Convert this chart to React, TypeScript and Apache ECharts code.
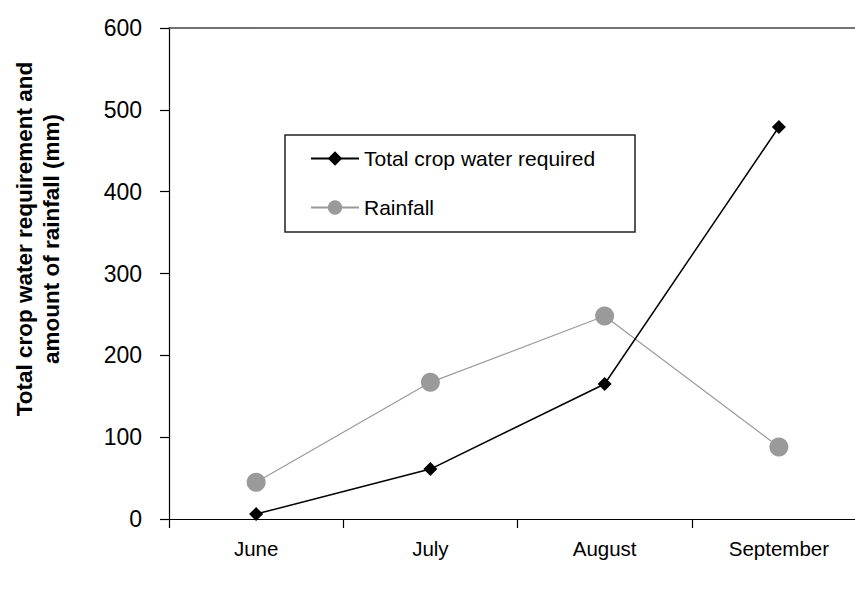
import React, { useEffect, useRef } from "react";
import * as echarts from "echarts";

const categories = ["June", "July", "August", "September"];
const cropWater = [6, 61, 165, 479];
const rainfall = [45, 167, 248, 88];
const yMin = 0;
const yMax = 600;
const yInterval = 100;
const yTitle = "Total crop water requirement and\namount of rainfall (mm)";
const seriesNames = ["Total crop water required", "Rainfall"];

const FONT = "'Liberation Sans', Arial, Helvetica, sans-serif";

export default function App() {
  const ref = useRef<HTMLDivElement>(null);
  useEffect(() => {
    document.body.style.margin = "0";
    const chart = echarts.init(ref.current!, null, { renderer: "svg" });
    chart.setOption({
      animation: false,
      backgroundColor: "#ffffff",
      textStyle: { fontFamily: FONT },
      grid: { left: 169, top: 28, right: 14, bottom: 74, containLabel: false },
      xAxis: [
        {
          type: "category",
          data: categories,
          boundaryGap: true,
          axisLine: { lineStyle: { color: "#000", width: 1.2 } },
          axisTick: { show: true, length: 9, inside: false, lineStyle: { color: "#000", width: 1.2 } },
          axisLabel: { color: "#000", fontSize: 20.5, margin: 19, fontFamily: FONT },
          splitLine: { show: false },
        },
        {
          type: "category",
          data: categories,
          position: "top",
          axisLine: { show: true, lineStyle: { color: "#444", width: 1.5 } },
          axisTick: { show: false },
          axisLabel: { show: false },
          splitLine: { show: false },
        },
      ],
      yAxis: {
        type: "value",
        min: yMin,
        max: yMax,
        interval: yInterval,
        axisLine: { show: true, lineStyle: { color: "#000", width: 1.2 } },
        axisTick: { show: true, length: 9, inside: false, lineStyle: { color: "#000", width: 1.2 } },
        axisLabel: { color: "#000", fontSize: 23, margin: 27, fontFamily: FONT },
        splitLine: { show: false },
      },
      legend: {
        orient: "vertical",
        left: 310,
        top: 148,
        padding: 0,
        itemWidth: 48,
        itemHeight: 18,
        itemGap: 28,
        textStyle: { color: "#000", fontSize: 21, fontFamily: FONT },
        data: seriesNames,
      },
      graphic: [
        {
          type: "rect",
          shape: { x: 285, y: 135, width: 350, height: 97 },
          style: { fill: "none", stroke: "#222", lineWidth: 1.5 },
          silent: true,
          z: 0,
        },
        {
          type: "text",
          x: 38,
          y: 239,
          rotation: Math.PI / 2,
          style: {
            text: yTitle,
            fill: "#000",
            font: `bold 22.5px ${FONT}`,
            align: "center",
            verticalAlign: "middle",
            lineHeight: 27,
          },
        },
      ],
      series: [
        {
          name: seriesNames[0],
          type: "line",
          data: cropWater,
          symbol: "diamond",
          symbolSize: 14,
          lineStyle: { color: "#000", width: 1.5 },
          itemStyle: { color: "#000" },
          z: 3,
        },
        {
          name: seriesNames[1],
          type: "line",
          data: rainfall,
          symbol: "circle",
          symbolSize: 19,
          lineStyle: { color: "#9a9a9a", width: 1.2 },
          itemStyle: { color: "#9a9a9a" },
          z: 2,
        },
      ],
    });
    return () => chart.dispose();
  }, []);
  return (
    <div
      style={{ position: "absolute", left: 0, top: 0, width: 855, height: 593, overflow: "hidden", background: "#fff" }}
    >
      <div ref={ref} style={{ width: 880, height: 593 }} />
    </div>
  );
}
